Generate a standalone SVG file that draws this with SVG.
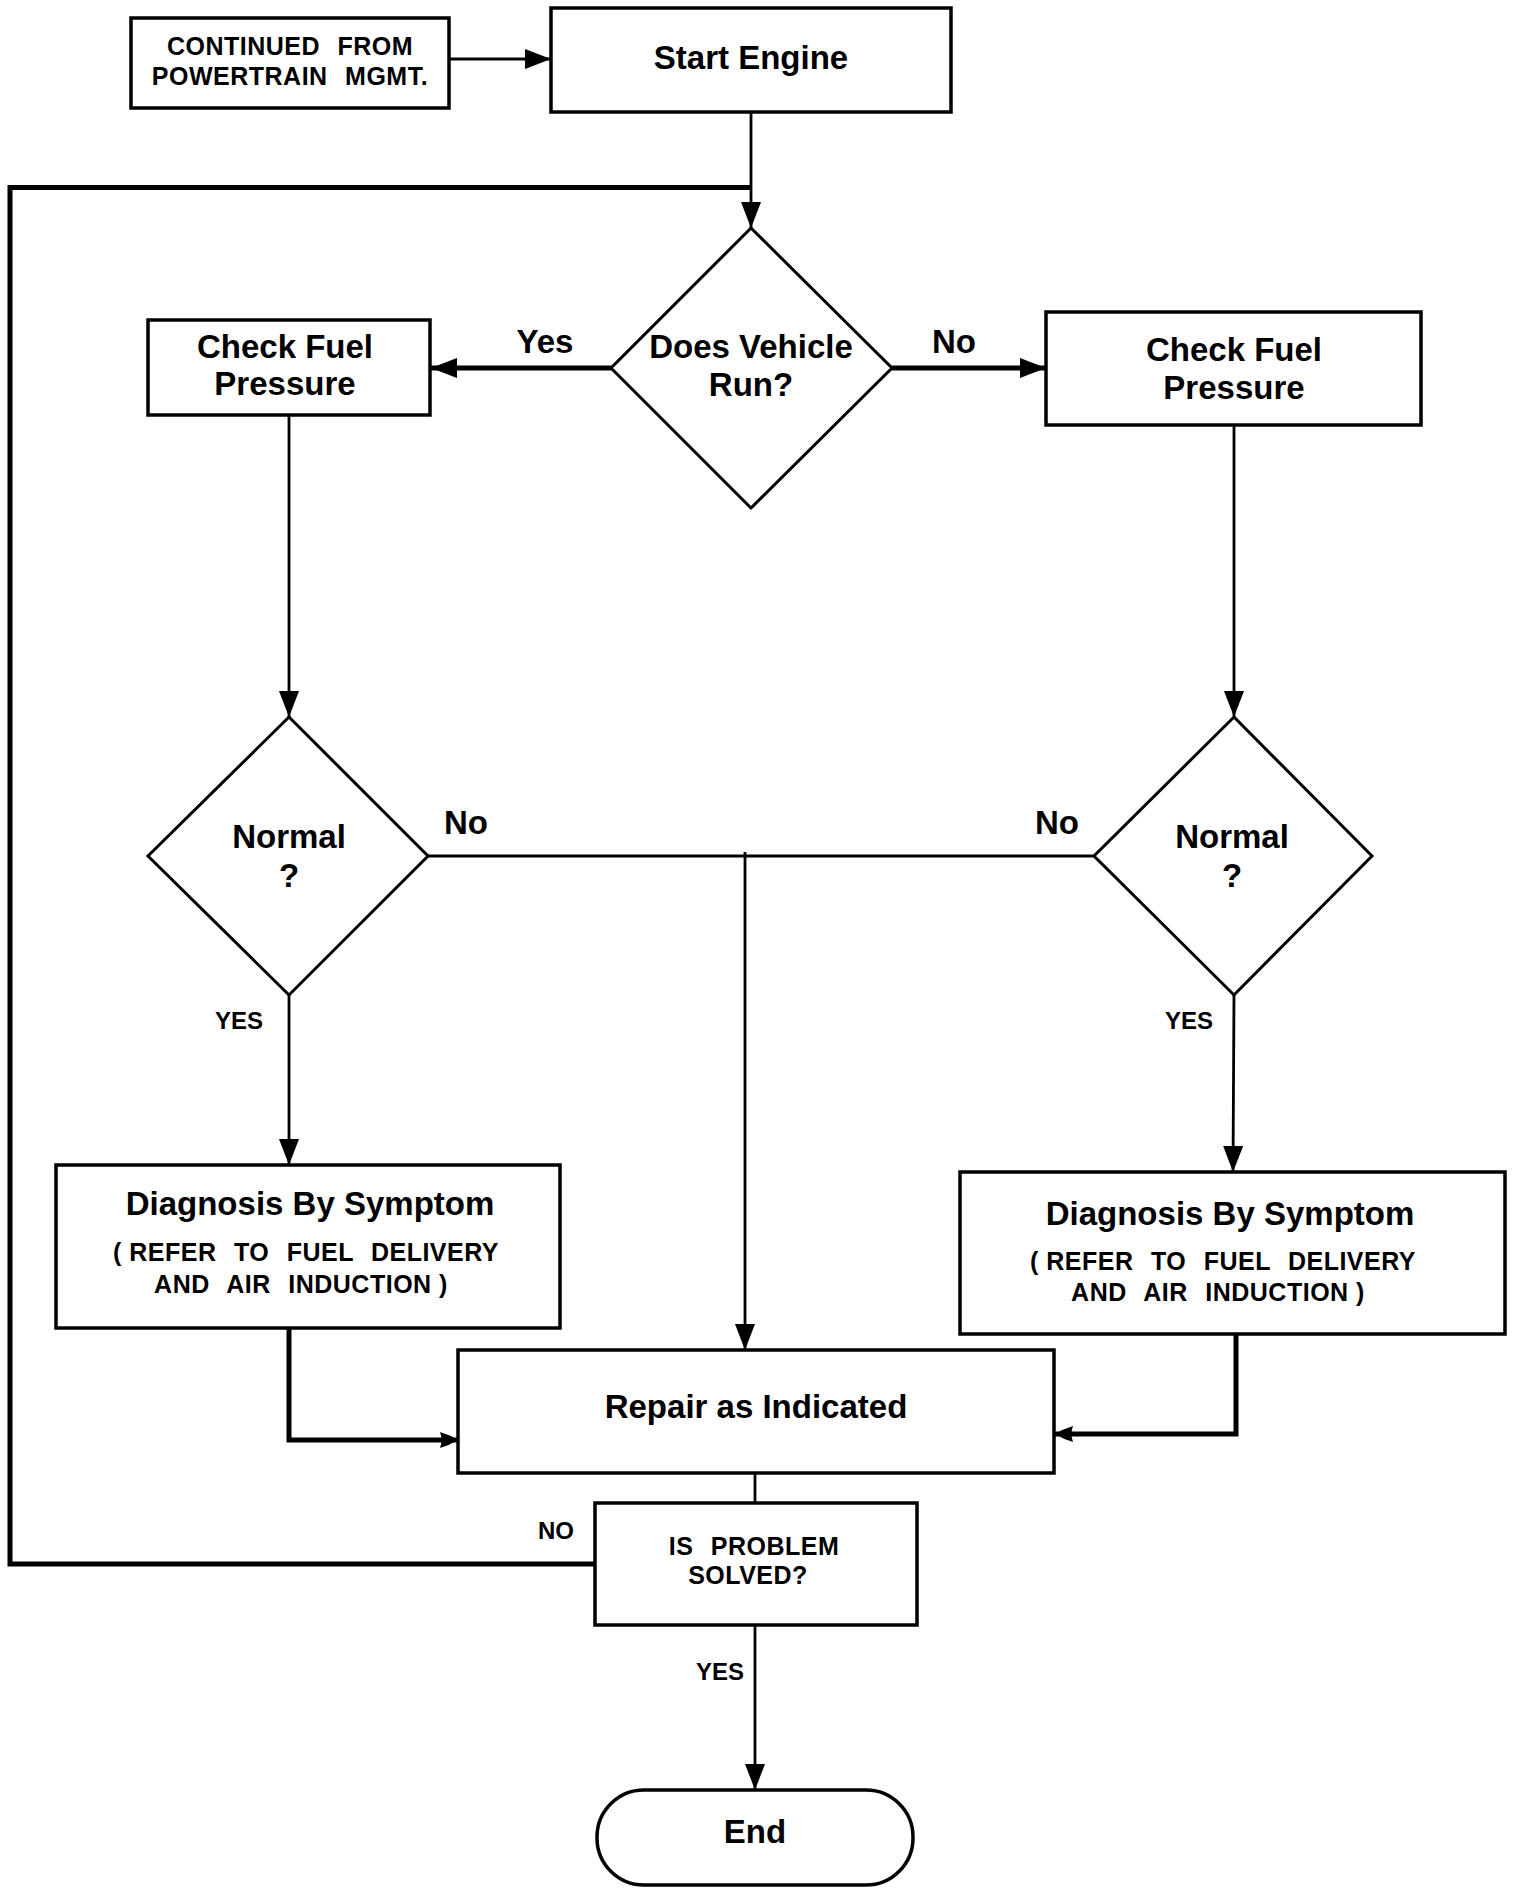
<svg xmlns="http://www.w3.org/2000/svg" width="1520" height="1892" viewBox="0 0 1520 1892">
<style>
  .box{fill:#fff;stroke:#000;stroke-width:3.5}
  .dia{fill:#fff;stroke:#000;stroke-width:3}
  .ln{fill:none;stroke:#000;stroke-width:2.8}
  .thk{fill:none;stroke:#000;stroke-width:5}
  text{font-family:"Liberation Sans",Arial,Helvetica,sans-serif;font-weight:bold;fill:#000;text-anchor:middle}
  .big{font-size:33px}
  .sm{font-size:24px}
  .cap{font-size:25px;letter-spacing:0.5px;word-spacing:10px}
  .tight{word-spacing:0px}
</style>
<defs>
  <marker id="ah" markerUnits="userSpaceOnUse" markerWidth="28" markerHeight="22" refX="26" refY="10" orient="auto">
    <path d="M0,0 L26,10 L0,20 z" fill="#000"/>
  </marker>
  <marker id="ahs" markerUnits="userSpaceOnUse" markerWidth="22" markerHeight="20" refX="18" refY="9" orient="auto">
    <path d="M0,1 Q10,4 18,9 Q10,14 0,17 Q3,9 0,1 z" fill="#000"/>
  </marker>
</defs>

<g id="connectors">
  <line class="ln" x1="449" y1="59" x2="551" y2="59" marker-end="url(#ah)"/>
  <line class="ln" x1="751" y1="112" x2="751" y2="228" marker-end="url(#ah)"/>
  <polyline class="thk" points="595,1564 10,1564 10,187.5 751,187.5"/>
  <line class="thk" x1="611" y1="368" x2="431" y2="368" marker-end="url(#ah)"/>
  <line class="thk" x1="892" y1="368" x2="1046" y2="368" marker-end="url(#ah)"/>
  <line class="ln" x1="289" y1="415" x2="289" y2="717" marker-end="url(#ah)"/>
  <line class="ln" x1="1234" y1="425" x2="1234" y2="717" marker-end="url(#ah)"/>
  <line class="ln" x1="428" y1="856" x2="1094" y2="856"/>
  <line class="ln" x1="745" y1="852" x2="745" y2="1350" marker-end="url(#ah)"/>
  <line class="ln" x1="289" y1="995" x2="289" y2="1165" marker-end="url(#ah)"/>
  <line class="ln" x1="1234" y1="995" x2="1233" y2="1172" marker-end="url(#ah)"/>
  <polyline class="thk" points="289,1328 289,1440 458,1440" marker-end="url(#ahs)"/>
  <polyline class="thk" points="1236,1334 1236,1434 1055,1434" marker-end="url(#ahs)"/>
  <line class="ln" x1="755" y1="1473" x2="755" y2="1503"/>
  <line class="ln" x1="755" y1="1625" x2="755" y2="1790" marker-end="url(#ah)"/>
  <text class="big" x="545" y="353">Yes</text>
  <text class="big" x="954" y="353">No</text>
  <text class="big" x="466" y="834">No</text>
  <text class="big" x="1057" y="834">No</text>
  <text class="sm" x="239" y="1029">YES</text>
  <text class="sm" x="1189" y="1029">YES</text>
  <text class="sm" x="556" y="1539">NO</text>
  <text class="sm" x="720" y="1680">YES</text>
</g>

<g id="continued">
  <rect class="box" x="131" y="18" width="318" height="90"/>
  <text class="cap" x="290" y="55">CONTINUED FROM</text>
  <text class="cap" x="290" y="85">POWERTRAIN MGMT.</text>
</g>

<g id="start">
  <rect class="box" x="551" y="8" width="400" height="104"/>
  <text class="big" x="751" y="69">Start Engine</text>
</g>

<g id="runs">
  <polygon class="dia" points="751,228 892,368 751,508 611,368"/>
  <text class="big" x="751" y="358">Does Vehicle</text>
  <text class="big" x="751" y="396">Run?</text>
</g>

<g id="checkL">
  <rect class="box" x="148" y="320" width="282" height="95"/>
  <text class="big" x="285" y="358">Check Fuel</text>
  <text class="big" x="285" y="395">Pressure</text>
</g>

<g id="checkR">
  <rect class="box" x="1046" y="312" width="375" height="113"/>
  <text class="big" x="1234" y="361">Check Fuel</text>
  <text class="big" x="1234" y="399">Pressure</text>
</g>

<g id="normalL">
  <polygon class="dia" points="289,717 428,856 289,995 148,856"/>
  <text class="big" x="289" y="848">Normal</text>
  <text class="big" x="289" y="887">?</text>
</g>

<g id="normalR">
  <polygon class="dia" points="1234,717 1372,856 1234,995 1094,856"/>
  <text class="big" x="1232" y="848">Normal</text>
  <text class="big" x="1232" y="887">?</text>
</g>

<g id="diagL">
  <rect class="box" x="56" y="1165" width="504" height="163"/>
  <text class="big" x="310" y="1215">Diagnosis By Symptom</text>
  <text class="cap" x="306" y="1261"><tspan class="tight">( </tspan>REFER TO FUEL DELIVERY</text>
  <text class="cap" x="301" y="1293">AND AIR INDUCTION<tspan class="tight"> )</tspan></text>
</g>

<g id="diagR">
  <rect class="box" x="960" y="1172" width="545" height="162"/>
  <text class="big" x="1230" y="1225">Diagnosis By Symptom</text>
  <text class="cap" x="1223" y="1270"><tspan class="tight">( </tspan>REFER TO FUEL DELIVERY</text>
  <text class="cap" x="1218" y="1301">AND AIR INDUCTION<tspan class="tight"> )</tspan></text>
</g>

<g id="repair">
  <rect class="box" x="458" y="1350" width="596" height="123"/>
  <text class="big" x="756" y="1418">Repair as Indicated</text>
</g>

<g id="solved">
  <rect class="box" x="595" y="1503" width="322" height="122"/>
  <text class="cap" x="754" y="1555">IS PROBLEM</text>
  <text class="cap" x="748" y="1584">SOLVED?</text>
</g>

<g id="end">
  <rect class="box" x="597" y="1790" width="316" height="95" rx="47" ry="47"/>
  <text class="big" x="755" y="1843">End</text>
</g>
</svg>
